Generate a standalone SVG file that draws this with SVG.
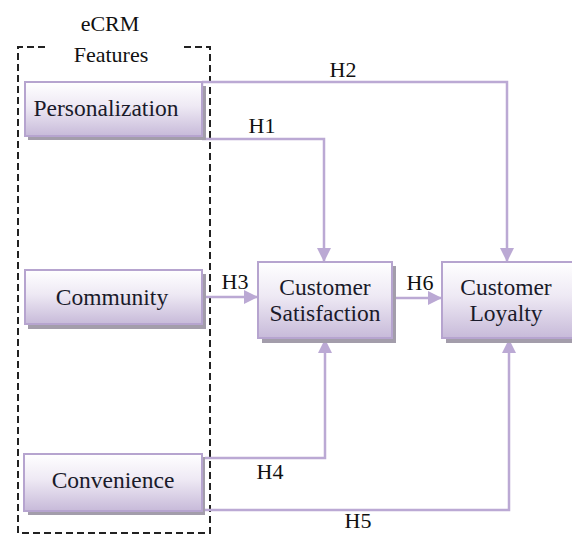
<svg xmlns="http://www.w3.org/2000/svg" width="572" height="534" viewBox="0 0 572 534">
  <style>
    .lbl { font-family: 'Liberation Serif', 'Times New Roman', 'DejaVu Serif', serif; font-size: 22px; fill: #111; }
    .node { font-family: 'Liberation Serif', 'Times New Roman', 'DejaVu Serif', serif; font-size: 23.5px; fill: #1a1a2a; text-anchor: middle; }
    .box { fill: url(#boxFill); stroke: #b6a4cf; stroke-width: 2; }
    .shadow { fill: #a39dab; }
    .link { fill: none; stroke: #bba9d4; stroke-width: 2.5; }
    .frame { fill: none; stroke: #222; stroke-width: 2; stroke-dasharray: 7 4; }
  </style>
  <defs>
    <linearGradient id="boxFill" x1="0" y1="0" x2="0" y2="1">
      <stop offset="0" stop-color="#ffffff"/>
      <stop offset="0.45" stop-color="#eee9f4"/>
      <stop offset="1" stop-color="#c7bad9"/>
    </linearGradient>
    <marker id="arrow" markerWidth="14" markerHeight="14" viewBox="0 0 14 14" refX="13" refY="7" orient="auto" markerUnits="userSpaceOnUse">
      <path d="M0,0 L14,7 L0,14 Z" fill="#bba9d4"/>
    </marker>
  </defs>

  <!-- grouping frame for the eCRM features -->
  <g id="ecrm-frame">
    <path class="frame" d="M45,47 H18 V533 H210 V47 H180"/>
    <text class="lbl" x="110" y="31" text-anchor="middle">eCRM</text>
    <text class="lbl" x="111" y="62" text-anchor="middle">Features</text>
  </g>

  <!-- connectors -->
  <g id="connectors">
    <path class="link" d="M202,82 H507 V261" marker-end="url(#arrow)"/>
    <path class="link" d="M202,82 V139"/>
    <path class="link" d="M202,139 H324 V261" marker-end="url(#arrow)"/>
    <path class="link" d="M202,297 H257" marker-end="url(#arrow)"/>
    <path class="link" d="M392,298 H441" marker-end="url(#arrow)"/>
    <path class="link" d="M205,458 H325 V340" marker-end="url(#arrow)"/>
    <path class="link" d="M205,510 H509 V340" marker-end="url(#arrow)"/>
    <text class="lbl" x="343" y="77" text-anchor="middle">H2</text>
    <text class="lbl" x="262" y="133" text-anchor="middle">H1</text>
    <text class="lbl" x="235" y="289" text-anchor="middle">H3</text>
    <text class="lbl" x="420" y="290" text-anchor="middle">H6</text>
    <text class="lbl" x="270" y="479" text-anchor="middle">H4</text>
    <text class="lbl" x="358" y="528" text-anchor="middle">H5</text>
  </g>

  <g id="personalization">
    <rect class="shadow" x="28" y="86" width="178" height="54"/>
    <rect class="box" x="25" y="82" width="177" height="54"/>
    <text class="node" x="106" y="116">Personalization</text>
  </g>

  <g id="community">
    <rect class="shadow" x="28" y="274" width="178" height="55"/>
    <rect class="box" x="25" y="270" width="177" height="54"/>
    <text class="node" x="112" y="305">Community</text>
  </g>

  <g id="convenience">
    <rect class="shadow" x="28" y="457" width="177" height="58"/>
    <rect class="box" x="24" y="454" width="178" height="57"/>
    <text class="node" x="113" y="488">Convenience</text>
  </g>

  <g id="customer-satisfaction">
    <rect class="shadow" x="262" y="266" width="134" height="77"/>
    <rect class="box" x="258" y="262" width="134" height="76"/>
    <text class="node" x="325" y="295">Customer</text>
    <text class="node" x="325" y="321">Satisfaction</text>
  </g>

  <g id="customer-loyalty">
    <rect class="shadow" x="446" y="266" width="130" height="77"/>
    <rect class="box" x="442" y="262" width="134" height="76"/>
    <text class="node" x="506" y="295">Customer</text>
    <text class="node" x="506" y="321">Loyalty</text>
  </g>
</svg>
